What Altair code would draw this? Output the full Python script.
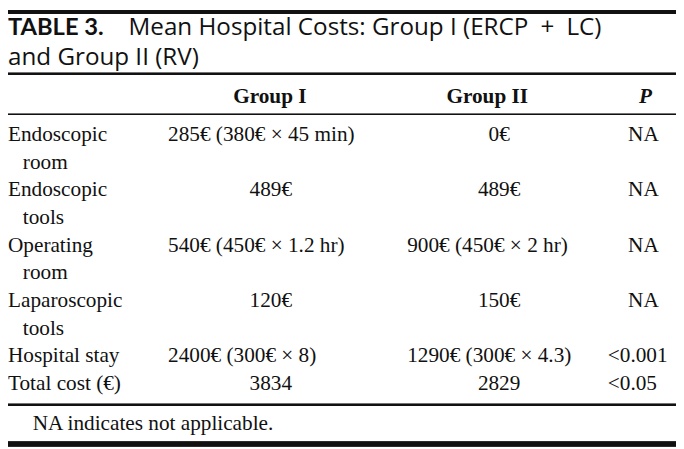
import altair as alt
import pandas as pd

# ---- table content ----
title_bold = "TABLE 3."
title_rest = "Mean Hospital Costs: Group I (ERCP\u2002+\u2002LC)"
title_line2 = "and Group II (RV)"
headers = ["Group I", "Group II", "P"]
label_line1 = ["Endoscopic", "Endoscopic", "Operating", "Laparoscopic", "Hospital stay", "Total cost (€)"]
label_line2 = ["room", "tools", "room", "tools", "", ""]
group1 = ["285€ (380€ × 45 min)", "489€", "540€ (450€ × 1.2 hr)", "120€", "2400€ (300€ × 8)", "3834"]
group2 = ["0€", "489€", "900€ (450€ × 2 hr)", "150€", "1290€ (300€ × 4.3)", "2829"]
pvals = ["NA", "NA", "NA", "NA", "<0.001", "<0.05"]
footnote = "NA indicates not applicable."

# ---- build long table (line index derived from label wrapping) ----
records = []
line = 0
for l1, l2, g1, g2, p in zip(label_line1, label_line2, group1, group2, pvals):
    records.append({"line": line, "col": "label", "text": l1})
    records.append({"line": line, "col": "g1", "text": g1})
    records.append({"line": line, "col": "g2", "text": g2})
    records.append({"line": line, "col": "p", "text": p})
    line += 1
    if l2:
        records.append({"line": line, "col": "label2", "text": l2})
        line += 1
cells = pd.DataFrame(records)
n_lines = line

W, H = 676, 441
SERIF = "Liberation Serif"
SANS = "Open Sans"
FS = 21.5
INK = "#111"

yscale = alt.Scale(domain=[0, n_lines - 1], range=[132, 384])
Y = alt.Y("line:Q", scale=yscale, axis=None)

base = alt.Chart(cells)


def col_layer(col, x, align="center", extra_filter=None):
    ch = base.transform_filter(alt.datum.col == col)
    if extra_filter is not None:
        ch = ch.transform_filter(extra_filter)
    return ch.mark_text(
        font=SERIF, fontSize=FS, align=align, baseline="alphabetic", color=INK
    ).encode(x=alt.value(x), y=Y, text="text:N")


has_paren = "indexof(datum.text, '(') >= 0"
no_paren = "indexof(datum.text, '(') < 0"
is_less = "indexof(datum.text, '<') >= 0"
not_less = "indexof(datum.text, '<') < 0"

body = [
    col_layer("label", 0, "left"),
    col_layer("label2", 15, "left"),
    col_layer("g1", 162, "left", has_paren),
    col_layer("g1", 266, "center", no_paren),
    col_layer("g2", 404, "left", has_paren),
    col_layer("g2", 497, "center", no_paren),
    col_layer("p", 643, "center", not_less),
    col_layer("p", 607, "left", is_less),
]

hdr = pd.DataFrame({"text": headers, "col": ["g1", "g2", "p"]})
hdr_base = alt.Chart(hdr)
header_layers = [
    hdr_base.transform_filter(alt.datum.col == "g1").mark_text(
        font=SERIF, fontSize=FS, fontWeight="bold", align="center", baseline="alphabetic", color=INK
    ).encode(x=alt.value(265), y=alt.value(93), text="text:N"),
    hdr_base.transform_filter(alt.datum.col == "g2").mark_text(
        font=SERIF, fontSize=FS, fontWeight="bold", align="center", baseline="alphabetic", color=INK
    ).encode(x=alt.value(485), y=alt.value(93), text="text:N"),
    hdr_base.transform_filter(alt.datum.col == "p").mark_text(
        font=SERIF, fontSize=FS, fontWeight="bold", fontStyle="italic", align="center",
        baseline="alphabetic", color=INK
    ).encode(x=alt.value(645), y=alt.value(93), text="text:N"),
]

ttl = pd.DataFrame({"text": [title_bold, title_rest, title_line2, footnote],
                    "kind": ["bold", "rest", "line2", "foot"]})
tb = alt.Chart(ttl)
title_layers = [
    tb.transform_filter(alt.datum.kind == "bold").mark_text(
        font="Lato", fontSize=24, fontWeight="bold", align="left", baseline="alphabetic", color=INK
    ).encode(x=alt.value(0), y=alt.value(25), text="text:N"),
    tb.transform_filter(alt.datum.kind == "rest").mark_text(
        font=SANS, fontSize=24.5, align="left", baseline="alphabetic", color=INK
    ).encode(x=alt.value(122), y=alt.value(25), text="text:N"),
    tb.transform_filter(alt.datum.kind == "line2").mark_text(
        font=SANS, fontSize=24.5, align="left", baseline="alphabetic", color=INK
    ).encode(x=alt.value(0), y=alt.value(55), text="text:N"),
    tb.transform_filter(alt.datum.kind == "foot").mark_text(
        font=SERIF, fontSize=FS, align="left", baseline="alphabetic", color=INK
    ).encode(x=alt.value(25), y=alt.value(424), text="text:N"),
]


def rule(y, w):
    return alt.Chart(hdr).mark_rule(color=INK, strokeWidth=w).encode(
        x=alt.value(0), x2=alt.value(W), y=alt.value(y)
    )


rules = [rule(1.5, 3.5), rule(64, 2), rule(105, 1.5), rule(399, 2.5), rule(438.5, 5)]

chart = alt.layer(*rules, *title_layers, *header_layers, *body).properties(
    width=W, height=H, padding=0, autosize=alt.AutoSizeParams(type="none")
).configure_view(stroke=None)

chart.save("out.html", embed_options={"renderer": "svg", "actions": False})
